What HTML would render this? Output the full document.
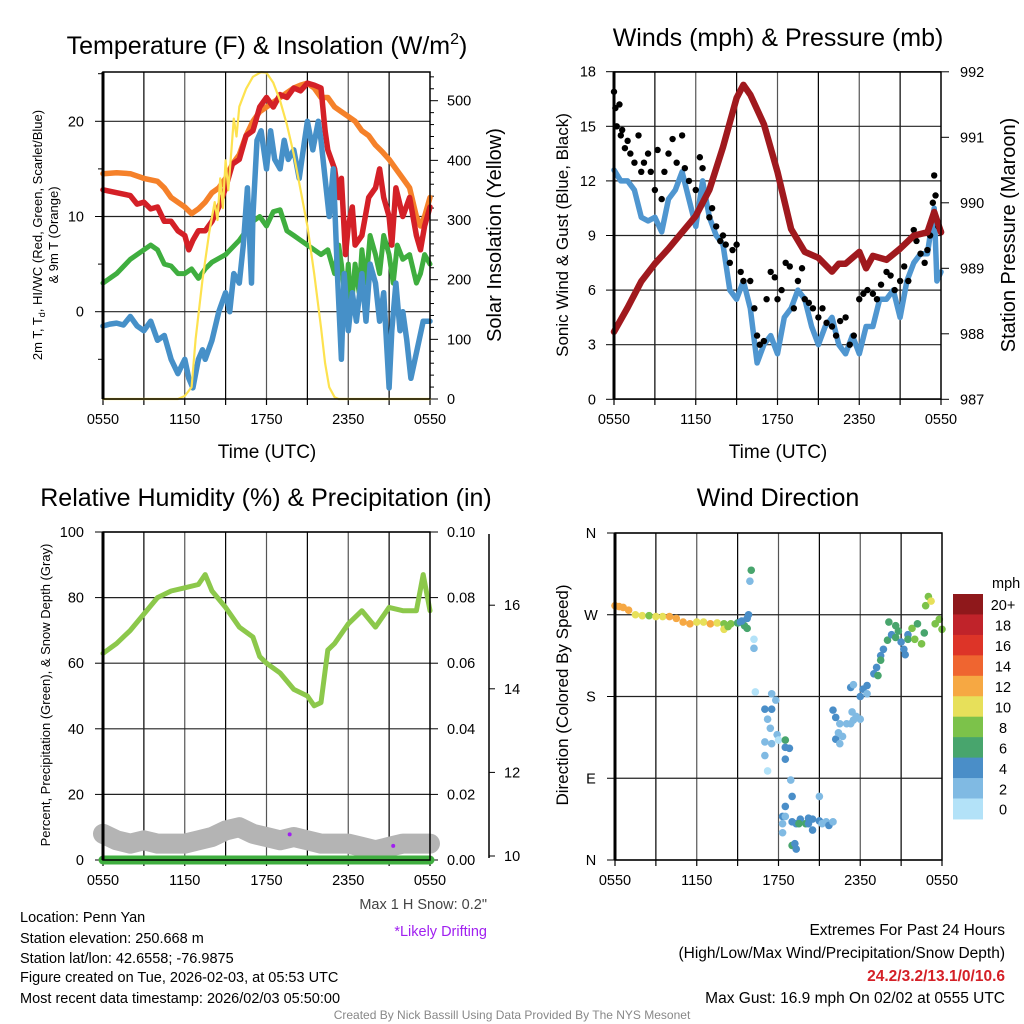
<!DOCTYPE html>
<html><head><meta charset="utf-8">
<style>
body{margin:0;background:#fff;}
svg{display:block;font-family:"Liberation Sans",Arial,sans-serif;}
</style></head>
<body>
<svg id="c" width="1024" height="1024" viewBox="0 0 1024 1024" xmlns="http://www.w3.org/2000/svg">
<text x="267" y="54" font-size="25" text-anchor="middle">Temperature (F) &amp; Insolation (W/m<tspan dy="-10" font-size="16">2</tspan><tspan dy="10">)</tspan></text>
<text x="778" y="46" font-size="25" text-anchor="middle">Winds (mph) &amp; Pressure (mb)</text>
<text x="266" y="506" font-size="25" text-anchor="middle">Relative Humidity (%) &amp; Precipitation (in)</text>
<text x="778" y="506" font-size="25" text-anchor="middle">Wind Direction</text>
<text x="267" y="458" font-size="19" text-anchor="middle">Time (UTC)</text>
<text x="778" y="458" font-size="19" text-anchor="middle">Time (UTC)</text>
<text transform="translate(42,235) rotate(-90)" font-size="13" text-anchor="middle">2m T, T<tspan font-size="9" dy="3">d</tspan><tspan dy="-3">, HI/WC (Red, Green, Scarlet/Blue)</tspan></text>
<text transform="translate(58,235) rotate(-90)" font-size="13" text-anchor="middle">&amp; 9m T (Orange)</text>
<text transform="translate(501,235) rotate(-90)" font-size="20" text-anchor="middle">Solar Insolation (Yellow)</text>
<text transform="translate(568,235) rotate(-90)" font-size="17" text-anchor="middle">Sonic Wind &amp; Gust (Blue, Black)</text>
<text transform="translate(1015,235) rotate(-90)" font-size="20" text-anchor="middle">Station Pressure (Maroon)</text>
<text transform="translate(50,695) rotate(-90)" font-size="13" text-anchor="middle">Percent, Precipitation (Green), &amp; Snow Depth (Gray)</text>
<text transform="translate(568,695) rotate(-90)" font-size="17" text-anchor="middle">Direction (Colored By Speed)</text>
<g font-size="14.5">
<text x="20" y="922">Location: Penn Yan</text>
<text x="20" y="943">Station elevation: 250.668 m</text>
<text x="20" y="963">Station lat/lon: 42.6558; -76.9875</text>
<text x="20" y="982">Figure created on Tue, 2026-02-03, at 05:53 UTC</text>
<text x="20" y="1003">Most recent data timestamp: 2026/02/03 05:50:00</text>
</g>
<text x="487" y="909" font-size="14.5" fill="#444" text-anchor="end">Max 1 H Snow: 0.2"</text>
<text x="487" y="936" font-size="14.5" fill="#a020f0" text-anchor="end">*Likely Drifting</text>
<g font-size="15.5" text-anchor="end">
<text x="1005" y="935">Extremes For Past 24 Hours</text>
<text x="1005" y="958">(High/Low/Max Wind/Precipitation/Snow Depth)</text>
<text x="1005" y="981" fill="#d42027" font-weight="bold">24.2/3.2/13.1/0/10.6</text>
<text x="1005" y="1003">Max Gust: 16.9 mph On 02/02 at 0555 UTC</text>
</g>
<text x="512" y="1019" font-size="12" fill="#888" text-anchor="middle">Created By Nick Bassill Using Data Provided By The NYS Mesonet</text>
</svg>
<script>
// ---------- data ----------
const xTickLabels=["0550","1150","1750","2350","0550"];
// Panel 1
const orangeT=[0,1,2,3,4,4.5,5,5.5,6,6.5,7,7.5,8,8.5,9,9.5,10,10.5,11,11.5,12,12.5,13,13.5,14,14.5,15,15.5,16,16.5,17,17.5,18,18.5,19,19.5,20,20.5,21,21.5,22,22.5,23,23.3,23.6,24];
const orangeV=[14.5,14.6,14.5,14,13.7,13,12,11.5,11,10.3,10.8,11.5,12.5,13,14,15.5,16.5,18.5,20,21,21.5,22,22.5,23,23.5,23.8,24,23.5,22.5,22.5,21.5,21,20.5,20,19,18.5,17.5,16.8,16,15,14,13,10,9,10,12];
const redT=[0,1,2,2.5,3,3.5,4,4.5,5,5.5,6,6.3,6.6,7,7.5,8,8.5,9,9.5,10,10.5,11,11.5,12,12.5,13,13.5,14,14.5,15,15.5,16,16.3,16.5,17,17.3,17.5,17.8,18,18.3,18.5,19,19.5,20,20.3,20.6,21,21.2,21.5,22,22.5,23,23.3,23.6,24];
const redV=[12.8,12.5,12.2,11.3,11.5,10.8,11,9.5,9.5,8.5,8,6.5,7.5,8.5,8.5,9.5,11,13,15.5,16,18.5,19,21.5,22.5,21.5,22.8,22.5,23.5,23.2,24,23.8,23.5,19,17,15,12,14,6,9,11,7,8,12,13,15,12,10,7,13,10,12,8,6.5,9,11];
const greenT=[0,1,2,3,3.5,4,4.5,5,5.5,6,6.5,7,7.5,8,9,10,10.5,11,11.5,12,12.5,13,13.5,14,14.5,15,15.5,16,16.5,17,17.3,17.5,17.8,18,18.2,18.5,18.8,19,19.3,19.6,20,20.3,20.6,21,21.3,21.6,22,22.5,23,23.3,23.6,24];
const greenV=[3,4,5.5,6.5,7,6.5,5,4.8,4,4,4.5,3.5,4.5,5.2,6,7.5,8.5,9.5,10,9,10.5,10.7,8.5,8,7.5,7,6.5,6,6.5,4,7,5,1,5,0,5,2,6.5,3,8,6,4,8,6,3,7,5.5,6,3,4,6,5];
const blueT=[0,0.5,1,1.5,2,2.5,3,3.5,4,4.5,5,5.5,6,6.3,6.6,7,7.3,7.5,8,8.5,9,9.3,9.6,10,10.3,10.6,10.9,11,11.3,11.6,12,12.3,12.6,13,13.3,13.6,14,14.4,14.8,15,15.4,15.8,16,16.3,16.6,16.9,17.2,17.5,17.7,18,18.3,18.6,19,19.3,19.6,20,20.3,20.6,21,21.2,21.5,21.8,22,22.3,22.6,22.9,23.2,23.5,24];
const blueV=[-1.5,-1.3,-1.2,-1.4,-0.5,-1.5,-2,-1,-3,-2.5,-5,-6.5,-5,-7,-8,-5,-4,-5,-3,0,2,0,4,3,7,13,3,10,18,19,15,19,16,15,18,16,17,14,18,20,17,20,18,14,10,15,4,-5,4,-2,2,-1,4,-1,5,3,-1,2,-8,-2,3,-2,0,-3,-7,-5,-3,-1,-1];
const solarT=[0,5.5,6,6.5,6.8,7.3,7.8,8.2,8.4,8.6,8.8,9,9.2,9.4,9.6,9.8,10,10.5,11,11.6,12,12.5,13,13.5,14,14.5,15,15.5,16,16.3,16.6,17,17.3,24];
const solarV=[0,0,5,20,100,200,280,330,300,370,320,400,350,410,470,440,490,520,540,548,547,530,500,460,410,350,290,210,120,60,20,3,0,0];
const tempTicks=[0,10,20];
const solarTicks=[0,100,200,300,400,500];
// Panel 2
const windT=[0,0.5,1,1.5,2,2.5,3,3.5,4,4.5,5,5.5,6,6.5,7,7.5,8,8.5,9,9.5,10,10.5,11,11.5,12,12.5,13,13.5,14,14.5,15,15.5,16,16.5,17,17.5,18,18.5,19,19.5,20,20.5,21,21.5,22,22.5,23,23.5,23.7,24];
const windV=[12.6,12,12,11.5,10,9.8,10,9.2,11,11.5,12.5,11,9.5,12,10,9,8.5,6,5.5,6.5,5,2,3,3.5,2.5,4.5,5,6,5.5,4,3,4,4.5,3,2.5,3.5,2.5,4,4,5.5,5.5,6,4.5,6.5,7.5,8,8,10.5,6.5,7];
const gustT=[0,0.1,0.2,0.4,0.5,0.6,0.8,1,1.2,1.5,1.8,2,2.2,2.5,2.7,3,3.2,3.5,3.7,4,4.3,4.6,5,5.2,5.5,6,6.3,6.5,7,7.2,7.5,7.8,8,8.2,8.5,8.7,9,9.3,9.5,10,10.3,10.5,10.7,11,11.2,11.5,11.8,12,12.3,12.6,12.9,13.2,13.5,13.8,14,14.3,14.6,15,15.3,15.6,16,16.3,16.6,17,17.3,17.6,18,18.3,18.6,19,19.3,19.6,20,20.3,20.6,21,21.3,21.6,22,22.2,22.5,22.8,23,23.2,23.4,23.5,23.6,23.8,24];
const gustV=[16.9,16,15,16.2,14.5,14.8,13.8,14.2,13.5,13,14.5,12.5,13,13.5,12.5,11.5,13.7,11,12.5,13.5,14.3,13,14.5,12.7,12,11.5,13.3,12.7,10,10.5,9.5,8.7,9,8.5,7.5,8.2,8.5,7,6.5,6.5,5,3.5,3,3.2,5.5,7,6.7,5.5,6,7.5,7.3,5,6.5,7.2,5.5,5.3,5,4.5,5,4.2,4,3.5,4.3,4.5,3,3.5,5.5,5.8,6,5.8,5.5,6.3,7,6.8,6,6.5,7.3,6.5,9.3,8.7,8,7.5,8.2,9,10.8,12.3,11.2,9.5,9.2];
const presT=[0,1,2,3,4,5,6,7,8,9,9.5,10,11,12,13,14,15,16,16.5,17,18,18.5,19,20,21,22,23,23.5,24];
const presV=[988.03,988.4,988.8,989.07,989.3,989.55,989.8,990.2,990.85,991.6,991.8,991.65,991.2,990.47,989.6,989.25,989.16,988.95,989.07,989.07,989.25,989.0,989.19,989.13,989.3,989.5,989.55,989.86,989.55];
const windTicks=[0,3,6,9,12,15,18];
const presTicks=[987,988,989,990,991,992];
// Panel 3
const rhT=[0,1,2,3,4,5,6,7,7.5,8,9,10,11,11.5,12,13,14,15,15.5,16,16.5,17,18,19,20,21,22,23,23.5,24];
const rhV=[63,66,70,75,80,82,83,84,87,82,77,71,68,62,60,57,52,50,47,48,64,66,72,76,71,77,76,76,87,76];
const snowT=[0,1,2,3,4,5,6,7,8,9,10,11,12,13,14,15,16,17,18,19,20,21,22,23,24];
const snowV=[8,6,5,6,5,5,5,6,7,9,10,8,7,6,7,6,5,5,5,4,3,4,5,5,5];
const precipT=[0,24];
const precipV=[0,0];
const driftT=[13.7,21.3];
const driftV=[7.8,4.3];
const rhTicks=[0,20,40,60,80,100];
const precipTicks=["0.00","0.02","0.04","0.06","0.08","0.10"];
const snowTicks=[10,12,14,16];
// Panel 4
const dirT=[0,0.3,0.6,1,1.5,2,2.5,3,3.5,4,4.5,5,5.5,6,6.5,7,7.5,8,8,8.3,8.5,9,9.2,9.5,9.7,9.3,9.7,9.8,10,9.9,10.2,10.2,10.3,11.5,11,11.5,11.8,11.2,11.4,11.9,11,11.5,11,12,11.2,12.5,12.5,12.8,12.5,12.9,13,12.5,12.3,12.5,12.3,12.3,13,13.3,13.6,13.5,14,14.2,14.5,15,15.2,15.5,15.7,15,13,13.3,13.2,14.5,16,14.2,16,16.2,16.5,17,16.2,16.4,16.7,16.5,17.3,17.5,17.7,18,17.4,17.3,17.5,18,18.2,18.5,18.5,19,19.2,19.3,19.5,19.7,19.5,20,20.3,20.6,21,21.5,21.2,21.3,21.5,22,22.5,21.8,22.2,22.8,23,23.2,23.5,23.8,24,22.7,20.1,20.8,20.6];
const dirV=[280,279,278,275,270,269,269,268,268,268,266,262,260,262,262,260,261,260,254,257,260,261,262,258,255,263,266,270,319,307,243,233,185,183,166,166,176,155,145,138,130,128,115,132,98,132,124,123,111,88,70,59,48,48,40,30,42,40,45,40,40,40,45,43,40,42,38,70,16,12,18,33,42,46,165,157,150,150,133,140,136,128,150,154,158,155,163,190,193,180,188,192,183,205,212,203,225,232,220,242,248,245,240,248,232,226,243,243,238,255,260,280,290,285,260,265,254,250,262,252,258];
const dirSpd=[12,12,12,12,10,10,8,10,10,12,12,12,12,10,10,12,10,8,10,8,8,6,4,6,6,4,4,4,6,2,0,2,0,2,4,4,2,2,2,2,2,2,2,0,0,6,4,4,4,2,4,4,4,2,2,2,4,4,4,6,6,4,4,4,2,2,4,2,6,4,4,4,2,4,4,4,2,2,4,2,2,2,2,2,2,2,2,4,2,4,4,4,2,4,4,6,4,4,6,6,4,6,4,4,4,4,6,8,8,8,6,8,8,10,8,8,8,6,6,6,6];
const speedLevels=["0","2","4","6","8","10","12","14","16","18","20+"];
const speedColors=["#b3e2f8","#80bae3","#4a8ec8","#48a56d","#7cc24a","#e7e05a","#f6a843","#ef6530","#dd3428","#c0232a","#8f181b"];
const dirTicks=["N","E","S","W","N"];

// ---------- drawing ----------
const svg=document.getElementById('c');
const NS='http://www.w3.org/2000/svg';
function mk(tag,attrs,parent){const e=document.createElementNS(NS,tag);for(const k in attrs)e.setAttribute(k,attrs[k]);(parent||svg).appendChild(e);return e;}
function txt(x,y,s,size,anchor,parent){const t=mk('text',{x:x,y:y,'font-size':size,'text-anchor':anchor},parent);t.textContent=s;return t;}

function frame(name,x0,y0,w,h,hLines){
  const g=mk('g',{});
  
  
  for(let i=1;i<8;i++){const x=x0+w*i/8;mk('line',{x1:x,y1:y0,x2:x,y2:y0+h,stroke:(i%2?'#000':'#555'),'stroke-width':1.2},g);}
  hLines.forEach(y=>mk('line',{x1:x0,y1:y,x2:x0+w,y2:y,stroke:'#222','stroke-width':1.2},g));
  for(let i=0;i<=8;i++){const x=x0+w*i/8;mk('line',{x1:x,y1:y0+h,x2:x,y2:y0+h+6,stroke:'#000','stroke-width':1.2},g);}
  xTickLabels.forEach((s,i)=>{const l=txt(x0+w*i/4,y0+h+25,s,14.5,'middle',g);
    
    });
  return g;
}
function border(name,x0,y0,w,h){
  const r=mk('rect',{x:x0,y:y0,width:w,height:h,fill:'none',stroke:'#000','stroke-width':1.5});
  
  
  mk('line',{x1:x0,y1:y0,x2:x0,y2:y0+h,stroke:'#000','stroke-width':3});
}
function poly(ts,vs,xf,yf,color,width,name){
  const pts=ts.map((t,i)=>xf(t).toFixed(1)+','+yf(vs[i]).toFixed(1)).join(' ');
  const p=mk('polyline',{points:pts,fill:'none',stroke:color,'stroke-width':width,'stroke-linejoin':'round','stroke-linecap':'round'});
  
  
  return p;
}

// Panel 1
(function(){
  const x0=103,y0=72,w=327,h=327;
  const X=t=>x0+t/24*w;
  const Y=v=>311.7-v*9.52;
  const Ys=v=>399-v*0.5966;
  frame('temperature',x0,y0,w,h,tempTicks.map(Y));
  tempTicks.forEach(v=>{mk('line',{x1:x0-8,y1:Y(v),x2:x0,y2:Y(v),stroke:'#000'});
    const l=txt(84,Y(v)+5,String(v),14.5,'end');
    
    });
  for(let v=-5;v<=25;v+=10){mk('line',{x1:x0-5,y1:Y(v),x2:x0,y2:Y(v),stroke:'#000'});}
  solarTicks.forEach(v=>{mk('line',{x1:x0+w,y1:Ys(v),x2:x0+w+8,y2:Ys(v),stroke:'#000'});
    const l=txt(447,Ys(v)+5,String(v),14.5,'start');
    
    });
  for(let v=20;v<=540;v+=20){if(v%100)mk('line',{x1:x0+w,y1:Ys(v),x2:x0+w+4,y2:Ys(v),stroke:'#000'});}
  poly(greenT,greenV,X,Y,'#3fae3f',5,'dewpoint-line');
  poly(orangeT,orangeV,X,Y,'#f5812a',5.5,'temperature-9m-line');
  poly(redT,redV,X,Y,'#d42027',5.5,'temperature-2m-line');
  poly(blueT,blueV,X,Y,'#4690c8',5.5,'wind-chill-line');
  poly(solarT,solarV,X,Ys,'#fde24f',2.2,'solar-insolation-line');
  border('temperature',x0,y0,w,h);
})();

// Panel 2
(function(){
  const x0=614,y0=72,w=327,h=327;
  const X=t=>x0+t/24*w;
  const Y=v=>399.3-v*18.2;
  const Yp=v=>399.3-(v-987)*65.5;
  frame('winds',x0,y0,w,h,windTicks.map(Y));
  windTicks.forEach(v=>{mk('line',{x1:x0-8,y1:Y(v),x2:x0,y2:Y(v),stroke:'#000'});
    const l=txt(596,Y(v)+5,String(v),14.5,'end');
    
    });
  presTicks.forEach(v=>{mk('line',{x1:x0+w,y1:Yp(v),x2:x0+w+8,y2:Yp(v),stroke:'#000'});
    const l=txt(960,Yp(v)+5,String(v),14.5,'start');
    
    });
  poly(windT,windV,X,Y,'#4f96d0',5.5,'sonic-wind-line');
  gustT.forEach((t,i)=>{const c=mk('circle',{cx:X(t),cy:Y(gustV[i]),r:3.2,fill:'#000'});
    
    });
  poly(presT,presV,X,Yp,'#a0191e',6.5,'pressure-line');
  border('winds',x0,y0,w,h);
})();

// Panel 3
(function(){
  const x0=103,y0=532,w=327,h=328;
  const X=t=>x0+t/24*w;
  const Y=v=>860-v*3.28;
  frame('humidity',x0,y0,w,h,rhTicks.map(Y));
  rhTicks.forEach((v,i)=>{mk('line',{x1:x0-8,y1:Y(v),x2:x0,y2:Y(v),stroke:'#000'});
    const l=txt(84,Y(v)+5,String(v),14.5,'end');
    
    
    mk('line',{x1:x0+w,y1:Y(v),x2:x0+w+8,y2:Y(v),stroke:'#000'});
    const r=txt(447,Y(v)+5,precipTicks[i],14.5,'start');
    
    });
  const ax=mk('line',{x1:489,y1:534,x2:489,y2:858,stroke:'#000','stroke-width':1.5});
  
  
  const Ysn=v=>856-(v-10)*41.8;
  snowTicks.forEach(v=>{mk('line',{x1:489,y1:Ysn(v),x2:495,y2:Ysn(v),stroke:'#000'});
    const l=txt(504,Ysn(v)+5,String(v),14.5,'start');
    
    });
  poly(snowT,snowV,X,Y,'#b4b4b4',20,'snow-depth-line');
  poly(precipT,precipV,X,Y,'#3fae3f',9,'precipitation-line');
  poly(rhT,rhV,X,Y,'#8cc84b',5,'relative-humidity-line');
  driftT.forEach((t,i)=>{const c=mk('circle',{cx:X(t),cy:Y(driftV[i]),r:2,fill:'#a020f0'});
    
    });
  border('humidity',x0,y0,w,h);
})();

// Panel 4
(function(){
  const x0=615,y0=533,w=327,h=327;
  const X=t=>x0+t/24*w;
  const Y=d=>860-d/360*h;
  frame('wind-direction',x0,y0,w,h,[0,90,180,270,360].map(Y));
  dirTicks.forEach((s,i)=>{const y=Y(i*90);mk('line',{x1:x0-8,y1:y,x2:x0,y2:y,stroke:'#000'});
    const l=txt(591,y+5,s,14.5,'middle');
    
    });
  dirT.forEach((t,i)=>{const idx=Math.min(10,Math.round(dirSpd[i]/2));
    const c=mk('circle',{cx:X(t),cy:Y(dirV[i]),r:3.8,fill:speedColors[idx]});
    
    });
  border('wind-direction',x0,y0,w,h);
  const lg=mk('g',{});
  
  
  txt(992,588,'mph',14.5,'start',lg);
  const bh=20.45;
  speedLevels.forEach((s,i)=>{const k=10-i;const y=594+i*bh;
    const r=mk('rect',{x:953,y:y,width:30,height:bh+0.5,fill:speedColors[k]},lg);
    
    
    const l=txt(1003,y+bh/2+6,speedLevels[k],14.5,'middle',lg);
    
    });
})();
</script>
</body></html>
